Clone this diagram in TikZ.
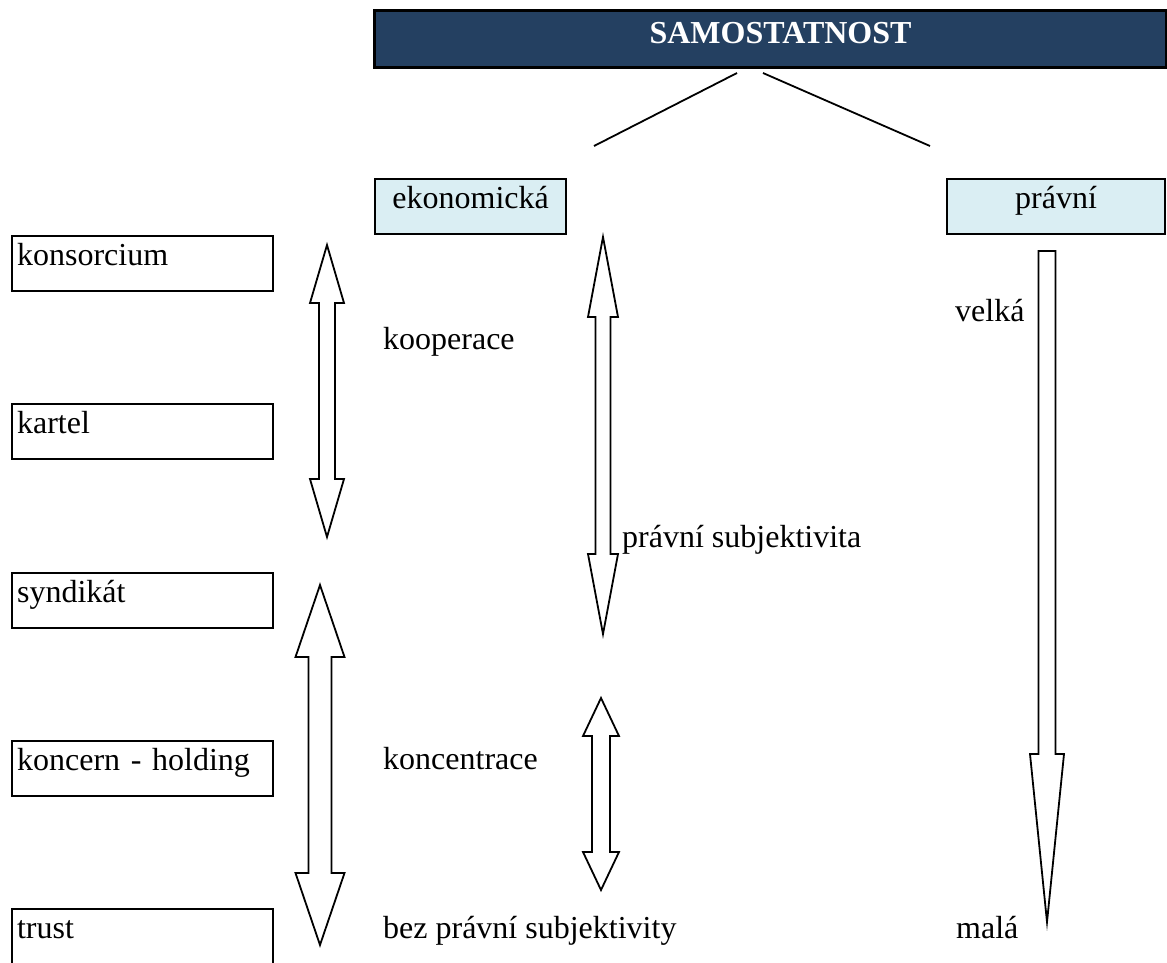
\documentclass[tikz,border=0pt]{standalone}
\usepackage{fontspec}
\setmainfont{Liberation Serif}
\definecolor{headblue}{HTML}{244061}
\definecolor{paleblue}{HTML}{DAEEF3}

% outlined block arrow with heads at both ends:
% #1 x of axis, #2 upper tip y, #3 lower tip y, #4 half shaft width, #5 half head width, #6 head length
\newcommand\dblblockarrow[6]{%
  \draw[blockarrow] (#1,#2) -- (#1+#5,#2+#6) -- (#1+#4,#2+#6) -- (#1+#4,#3-#6)
    -- (#1+#5,#3-#6) -- (#1,#3) -- (#1-#5,#3-#6) -- (#1-#4,#3-#6)
    -- (#1-#4,#2+#6) -- (#1-#5,#2+#6) -- cycle;}
% block arrow with a flat top and one head pointing down
\newcommand\downblockarrow[6]{%
  \draw[blockarrow] (#1-#4,#2) -- (#1+#4,#2) -- (#1+#4,#3-#6) -- (#1+#5,#3-#6)
    -- (#1,#3) -- (#1-#5,#3-#6) -- (#1-#4,#3-#6) -- cycle;}

\begin{document}
\begin{tikzpicture}[x=1pt, y=-1pt,
  every node/.style={font=\fontsize{32}{38}\selectfont, inner sep=0pt},
  topbox/.style={draw=black, line width=3pt, fill=headblue, text=white,
    font=\fontsize{32}{38}\selectfont\bfseries, anchor=north west,
    minimum width=792pt, minimum height=57pt, text height=33pt, text depth=24pt,
    text width=792pt, align=center},
  kindbox/.style={draw=black, line width=2.2pt, fill=paleblue, anchor=north west,
    minimum height=55pt, text height=29pt, text depth=26pt, align=center},
  formbox/.style={draw=black, line width=2.2pt, anchor=north west,
    minimum height=55pt, text height=29pt, text depth=26pt,
    text width=251pt, inner xsep=5pt, align=left},
  word/.style={anchor=base west},
  branch/.style={line width=1.8pt},
  blockarrow/.style={draw=black, line width=1.8pt, fill=white, line join=miter}
]
\useasboundingbox (0,0) rectangle (1167,962);

% heading and its two branches
\node[topbox] (sam) at (373,9) {\hspace*{20pt}SAMOSTATNOST};
\coordinate (bl0) at (737,73);
\coordinate (bl1) at (594,146);
\coordinate (br0) at (763,73);
\coordinate (br1) at (930,146);
\draw[branch] (bl0) -- (bl1);
\draw[branch] (br0) -- (br1);

% the two kinds of independence
\node[kindbox, minimum width=191pt, text width=191pt] (eko) at (374,178) {ekonomická};
\node[kindbox, minimum width=218pt, text width=218pt] (pra) at (946,178) {právní};

% forms of association
\node[formbox] (kons) at (11,235) {konsorcium};
\node[formbox] (kart) at (11,403) {kartel};
\node[formbox] (synd) at (11,572) {syndikát};
\node[formbox] (konc) at (11,740) {koncern - holding};
\node[formbox] (trus) at (11,908) {trust};

% block arrows
\dblblockarrow{327}{245}{537}{8}{17}{58}
\dblblockarrow{320}{585}{945}{11.5}{24.5}{72}
\dblblockarrow{603}{237}{634}{7.5}{15}{80}
\dblblockarrow{601}{698}{890}{9}{18}{38}
\downblockarrow{1047}{251}{922}{8.5}{17}{168}

% captions
\node[word] (koop) at (383,349) {kooperace};
\node[word] (subj) at (622,547) {právní subjektivita};
\node[word] (konz) at (383,769) {koncentrace};
\node[word] (bez)  at (383,938) {bez právní subjektivity};
\node[word] (velk) at (955,321) {velká};
\node[word] (mala) at (956,938) {malá};
\end{tikzpicture}
\end{document}
